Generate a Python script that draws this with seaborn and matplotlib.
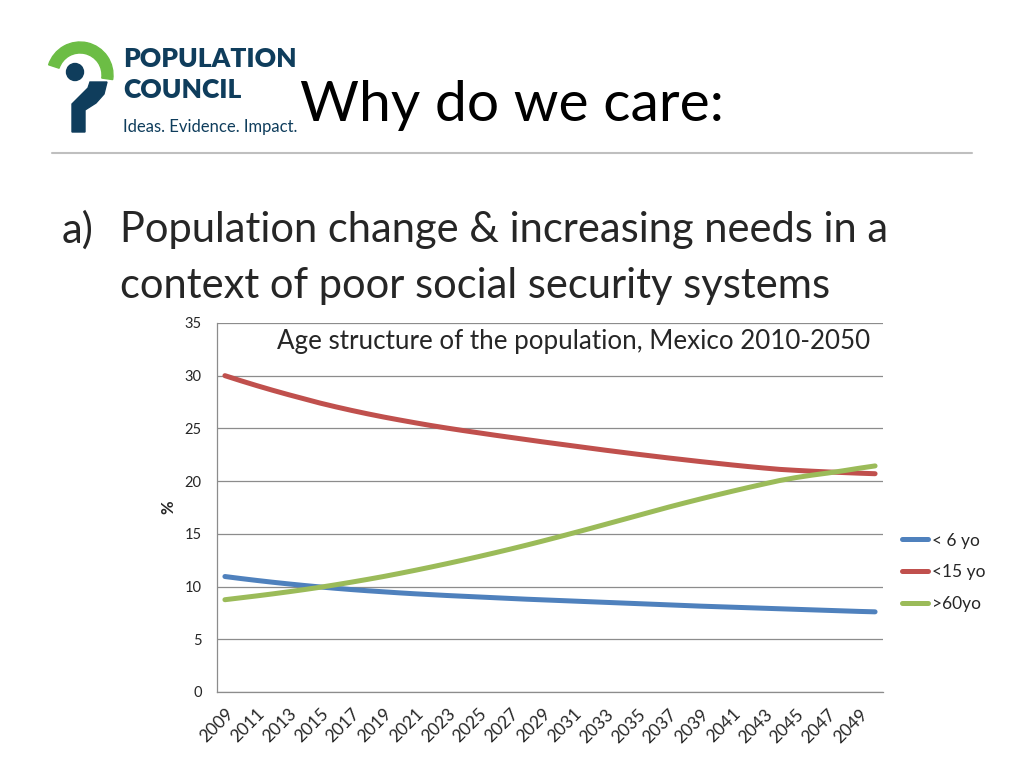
import numpy as np
import pandas as pd
import matplotlib.pyplot as plt
import seaborn as sns
from matplotlib.patches import Wedge, Circle, Polygon
from matplotlib.lines import Line2D

years = list(range(2009, 2051))

under6 = [10.95, 10.76, 10.58, 10.41, 10.25, 10.10, 9.96, 9.83, 9.71, 9.60,
          9.50, 9.40, 9.31, 9.23, 9.15, 9.08, 9.01, 8.94, 8.87, 8.80,
          8.74, 8.68, 8.62, 8.56, 8.50, 8.44, 8.38, 8.32, 8.26, 8.20,
          8.14, 8.09, 8.04, 7.99, 7.94, 7.89, 7.84, 7.79, 7.74, 7.69,
          7.64, 7.60]

under15 = [30.0, 29.52, 29.06, 28.62, 28.20, 27.80, 27.40, 27.04, 26.70, 26.38,
           26.08, 25.80, 25.53, 25.27, 25.03, 24.80, 24.58, 24.36, 24.15, 23.94,
           23.73, 23.53, 23.33, 23.13, 22.93, 22.74, 22.55, 22.37, 22.19, 22.02,
           21.85, 21.69, 21.53, 21.38, 21.24, 21.11, 21.02, 20.94, 20.87, 20.81,
           20.75, 20.70]

over60 = [8.75, 8.93, 9.11, 9.30, 9.50, 9.71, 9.93, 10.17, 10.42, 10.68,
          10.95, 11.24, 11.54, 11.85, 12.17, 12.50, 12.84, 13.19, 13.55, 13.92,
          14.30, 14.69, 15.09, 15.49, 15.90, 16.31, 16.72, 17.13, 17.54, 17.93,
          18.31, 18.68, 19.04, 19.39, 19.73, 20.06, 20.33, 20.56, 20.76, 20.98,
          21.22, 21.44]

series_names = ['< 6 yo', '<15 yo', '>60yo']
series_colors = ['#4F81BD', '#C0504D', '#9BBB59']

df = pd.DataFrame({'year': years * 3,
                   'value': under6 + under15 + over60,
                   'group': [series_names[0]] * len(years) + [series_names[1]] * len(years)
                            + [series_names[2]] * len(years)})

sns.set_theme(style='white')
plt.rcParams['font.family'] = ['Lato', 'DejaVu Sans']

fig = plt.figure(figsize=(10.24, 7.68), dpi=100)

# slide header
fig.text(0.293, 0.862, 'Why do we care:', fontsize=41, color='black', va='center', ha='left')
fig.add_artist(Line2D([0.051, 0.949], [0.801, 0.801], color='#BFBFBF', lw=1.5))
fig.text(0.060, 0.700, 'a)', fontsize=30, va='center')
fig.text(0.117, 0.700, 'Population change & increasing needs in a', fontsize=30, va='center')
fig.text(0.117, 0.628, 'context of poor social security systems', fontsize=30, va='center')

# logo (pixel box x 45-115, y 35-135)
logo = fig.add_axes([45 / 1024, 1 - 135 / 768, 70 / 1024, 100 / 768])
logo.set_xlim(0, 70)
logo.set_ylim(0, 100)
logo.axis('off')
navy = '#0F3D5C'
logo.add_patch(Wedge((35, 60), 33, -8, 162, width=11, color='#6CBD45'))
logo.add_patch(Circle((30, 63), 8.5, color=navy))
logo.add_patch(Polygon([[45, 53], [62, 53], [59, 41], [51, 32], [40, 25], [40, 3],
                        [27, 3], [27, 31], [35, 39], [43, 47]],
                       closed=True, color=navy))
fig.text(0.120, 0.923, 'POPULATION', fontsize=19, fontweight='heavy', color=navy, va='center')
fig.text(0.120, 0.883, 'COUNCIL', fontsize=19, fontweight='heavy', color=navy, va='center')
fig.text(0.120, 0.834, 'Ideas. Evidence. Impact.', fontsize=12, color=navy, va='center')

# chart
ax = fig.add_axes([0.2119, 0.099, 0.6504, 0.4805])
sns.lineplot(data=df, x='year', y='value', hue='group', palette=series_colors,
             linewidth=3.6, ax=ax, legend=False)
ax.set_xlim(2008.5, 2050.5)
ax.set_ylim(0, 35)
ax.set_yticks(range(0, 36, 5))
ax.set_xticks(years[::2])
ax.set_xticklabels([str(y) for y in years[::2]], rotation=45, ha='right',
                   rotation_mode='anchor', fontsize=12.5)
ax.tick_params(axis='y', labelsize=10.5, pad=5)
ax.tick_params(axis='x', pad=4)
ax.grid(axis='y', color='#8C8C8C', lw=0.9)
for s in ['top', 'right']:
    ax.spines[s].set_visible(False)
for s in ['left', 'bottom']:
    ax.spines[s].set_color('#8C8C8C')
    ax.spines[s].set_linewidth(0.9)
ax.set_xlabel('')
ax.set_ylabel('%', fontsize=12, fontweight='bold', labelpad=6)
ax.text(0.535, 0.95, 'Age structure of the population, Mexico 2010-2050', transform=ax.transAxes,
        ha='center', va='center', fontsize=18.7)

handles = [Line2D([], [], color=c, lw=3.6, solid_capstyle='round') for c in series_colors]
fig.legend(handles, series_names, loc='center left', bbox_to_anchor=(0.866, 0.255),
           frameon=False, fontsize=12.5, handlelength=1.5, handletextpad=0.2,
           labelspacing=0.9)

fig.savefig('out.png', dpi=100)
